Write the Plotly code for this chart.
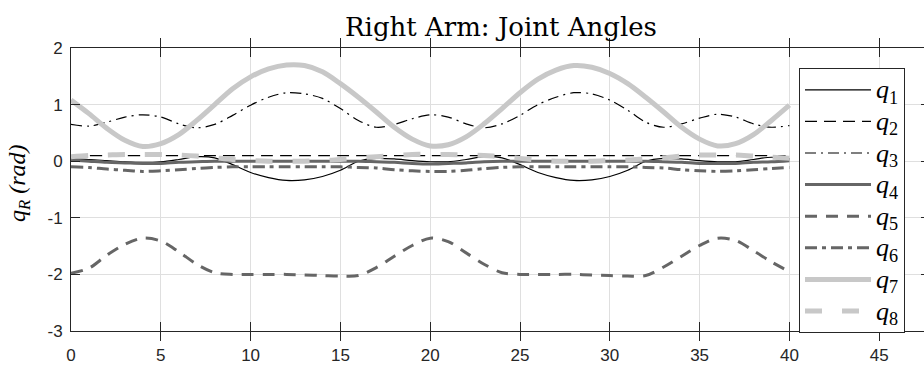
import plotly.graph_objects as go

# time samples (s)
t = list(range(0, 41))

# joint angles of the right arm (rad)
q1 = [0.04, 0.03, 0.01, -0.01, -0.02, -0.01, 0.03, 0.08, 0.06, -0.06, -0.20, -0.29, -0.34, -0.33, -0.27,
      -0.16, 0.00, 0.05, 0.04, 0.01, -0.01, -0.01, 0.03, 0.08, 0.06, -0.06, -0.20, -0.29, -0.34, -0.33,
      -0.27, -0.16, 0.00, 0.05, 0.04, 0.01, -0.01, -0.01, 0.03, 0.07, 0.04]
q2 = [0.10, 0.10, 0.10, 0.10, 0.10, 0.10, 0.10, 0.10, 0.10, 0.10, 0.10, 0.10, 0.10, 0.10, 0.10,
      0.10, 0.10, 0.10, 0.10, 0.10, 0.10, 0.10, 0.10, 0.10, 0.10, 0.10, 0.10, 0.10, 0.10, 0.10,
      0.10, 0.10, 0.10, 0.10, 0.10, 0.10, 0.10, 0.10, 0.10, 0.10, 0.10]
q3 = [0.65, 0.62, 0.69, 0.78, 0.82, 0.78, 0.66, 0.59, 0.65, 0.81, 0.99, 1.13, 1.21, 1.19, 1.11,
      0.93, 0.72, 0.60, 0.65, 0.75, 0.82, 0.78, 0.66, 0.59, 0.66, 0.81, 1.00, 1.13, 1.21, 1.19,
      1.08, 0.90, 0.69, 0.60, 0.66, 0.76, 0.83, 0.78, 0.66, 0.60, 0.63]
q4 = [0.02, 0.00, -0.02, -0.03, -0.04, -0.04, -0.02, -0.01, 0.00, 0.00, 0.00, 0.00, 0.00, 0.00, 0.00,
      0.00, 0.00, -0.01, -0.02, -0.04, -0.05, -0.04, -0.03, -0.01, 0.00, 0.00, 0.00, 0.00, 0.00, 0.00,
      0.00, 0.00, 0.00, -0.01, -0.02, -0.04, -0.04, -0.04, -0.02, -0.01, 0.01]
q5 = [-1.98, -1.89, -1.66, -1.47, -1.36, -1.41, -1.60, -1.82, -1.97, -2.00, -2.00, -2.00, -2.00, -2.01, -2.02,
      -2.03, -2.02, -1.88, -1.68, -1.49, -1.36, -1.42, -1.62, -1.82, -1.97, -2.00, -2.00, -2.00, -2.00, -2.01,
      -2.02, -2.03, -2.02, -1.87, -1.68, -1.49, -1.36, -1.40, -1.58, -1.78, -1.95]
q6 = [-0.10, -0.11, -0.14, -0.16, -0.18, -0.17, -0.15, -0.13, -0.11, -0.10, -0.10, -0.10, -0.10, -0.10, -0.10,
      -0.10, -0.11, -0.12, -0.15, -0.17, -0.18, -0.18, -0.16, -0.13, -0.11, -0.10, -0.10, -0.10, -0.10, -0.10,
      -0.10, -0.10, -0.11, -0.12, -0.15, -0.17, -0.18, -0.17, -0.15, -0.13, -0.11]
q7 = [1.08, 0.84, 0.58, 0.37, 0.26, 0.31, 0.47, 0.72, 1.00, 1.28, 1.49, 1.63, 1.70, 1.69, 1.58,
      1.37, 1.13, 0.87, 0.60, 0.39, 0.27, 0.29, 0.43, 0.66, 0.93, 1.21, 1.45, 1.61, 1.69, 1.66,
      1.55, 1.37, 1.13, 0.87, 0.60, 0.39, 0.27, 0.31, 0.47, 0.72, 0.99]
q8 = [0.08, 0.10, 0.11, 0.12, 0.12, 0.12, 0.11, 0.09, 0.06, 0.03, 0.01, 0.00, 0.00, 0.00, 0.01,
      0.03, 0.06, 0.08, 0.10, 0.12, 0.12, 0.12, 0.11, 0.10, 0.08, 0.05, 0.02, 0.00, 0.00, 0.00,
      0.01, 0.02, 0.04, 0.06, 0.09, 0.11, 0.11, 0.11, 0.09, 0.07, 0.05]

series = [q1, q2, q3, q4, q5, q6, q7, q8]
names = ['<span style="font-size:26px"><i>q</i><sub>%d</sub></span>' % i for i in range(1, 9)]

x_ticks = [0, 5, 10, 15, 20, 25, 30, 35, 40, 45]
x_labels = ["0", "5", "10", "15", "20", "25", "30", "35", "40", "45"]
y_ticks = [-3, -2, -1, 0, 1, 2]
y_labels = ["-3", "-2", "-1", "0", "1", "2"]

BLACK = "#000000"
DARK = "#666666"
LIGHT = "#c8c8c8"
styles = [
    dict(color=BLACK, width=1.2, dash="solid"),
    dict(color=BLACK, width=1.2, dash="12px,7px"),
    dict(color=BLACK, width=1.2, dash="11px,5px,2px,5px"),
    dict(color=DARK, width=3, dash="solid"),
    dict(color=DARK, width=3, dash="12px,9px"),
    dict(color=DARK, width=3, dash="12px,5px,4px,5px"),
    dict(color=LIGHT, width=5, dash="solid"),
    dict(color=LIGHT, width=5, dash="17px,20px"),
]

fig = go.Figure()
for y, name, st in zip(series, names, styles):
    fig.add_trace(go.Scatter(x=t, y=y, name=name, mode="lines",
                             line=dict(shape="spline", smoothing=0.9, **st)))

# right-hand tick marks of the box
fig.add_trace(go.Scatter(x=[None], y=[None], yaxis="y2", showlegend=False, hoverinfo="skip"))

AX = "#262626"
tickfont = dict(family="Liberation Sans, Arial, sans-serif", size=17, color=AX)
L, R, T, B = 71, 0, 48, 39
W, H = 924, 370
pw, ph = W - L - R, H - T - B

fig.update_layout(
    width=W, height=H,
    margin=dict(l=L, r=R, t=T, b=B),
    paper_bgcolor="white", plot_bgcolor="white",
    xaxis=dict(range=[0, pw / 17.96], tickvals=x_ticks, ticktext=x_labels,
               ticks="inside", ticklen=9, tickcolor=AX, tickwidth=1,
               showline=True, linecolor=AX, linewidth=1, mirror="allticks",
               showgrid=True, gridcolor="#dfdfdf", gridwidth=1, zeroline=False,
               tickfont=tickfont, ticklabelstandoff=9),
    yaxis=dict(range=[-3, 2], tickvals=y_ticks, ticktext=y_labels,
               ticks="inside", ticklen=9, tickcolor=AX, tickwidth=1,
               showline=True, linecolor=AX, linewidth=1, mirror=False,
               showgrid=True, gridcolor="#dfdfdf", gridwidth=1, zeroline=False,
               tickfont=tickfont, ticklabelstandoff=4),
    yaxis2=dict(range=[-3, 2], tickvals=y_ticks, overlaying="y", side="right",
                ticks="inside", ticklen=3, tickcolor=AX, showline=False,
                showgrid=False, zeroline=False, showticklabels=False),
    legend=dict(x=(799 - L) / pw, y=(H - B - 68) / ph, xanchor="left", yanchor="top",
                bordercolor=AX, borderwidth=1, bgcolor="white",
                font=dict(family="Liberation Serif, serif", size=22, color="black"),
                itemwidth=66, tracegroupgap=0),
    showlegend=True,
    annotations=[
        dict(text="Right Arm: Joint Angles", xref="paper", yref="paper",
             x=(501 - L) / pw, y=(H - B - 27) / ph, xanchor="center", yanchor="middle",
             showarrow=False, font=dict(family="DejaVu Serif, serif", size=26, color="black")),
        dict(text="<i>q</i><sub><i>R</i></sub> <i>(rad)</i>", xref="paper", yref="paper",
             x=(19 - L) / pw, y=(H - B - 183) / ph, xanchor="center", yanchor="middle", textangle=-90,
             showarrow=False, font=dict(family="Liberation Serif, serif", size=24, color="black")),
    ],
)

fig.write_html("out.html")
